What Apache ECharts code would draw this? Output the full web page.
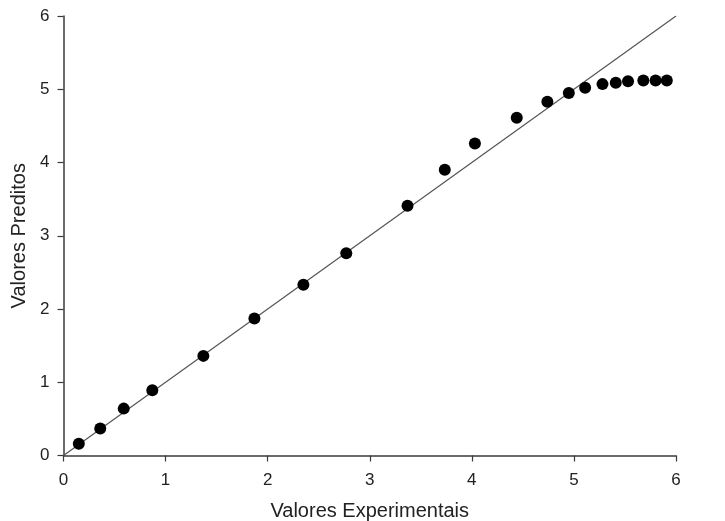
<!DOCTYPE html>
<html>
<head>
<meta charset="utf-8">
<script src="https://cdn.jsdelivr.net/npm/echarts@6/dist/echarts.min.js"></script>
<style>
  html, body { margin: 0; padding: 0; background: #fff; }
  #chart { width: 725px; height: 521px; }
</style>
</head>
<body>
<div id="chart"></div>
<script>
// Experimental vs. predicted values
const experimentais = [0.15, 0.36, 0.59, 0.87, 1.37, 1.87, 2.35, 2.77, 3.37, 3.735, 4.03, 4.44, 4.74, 4.95, 5.11, 5.28, 5.41, 5.53, 5.68, 5.80, 5.91];
const preditos      = [0.16, 0.37, 0.64, 0.89, 1.36, 1.87, 2.33, 2.76, 3.41, 3.90, 4.26, 4.61, 4.83, 4.95, 5.02, 5.07, 5.09, 5.11, 5.12, 5.12, 5.12];
// Reference line y = x
const linhaX = [0, 6];
const linhaY = [0, 6];
const axisTicks = [0, 1, 2, 3, 4, 5, 6];

const font = 'Liberation Sans, Arial, sans-serif';
const pontos = experimentais.map((x, i) => [x, preditos[i]]);
const linha = linhaX.map((x, i) => [x, linhaY[i]]);

const axisCommon = {
  type: 'value',
  min: axisTicks[0],
  max: axisTicks[axisTicks.length - 1],
  interval: 1,
  splitLine: { show: false },
  axisLine: { show: true, onZero: false, lineStyle: { color: '#3a3a3a', width: 1.5 } },
  axisTick: { show: true, inside: false, length: 6, lineStyle: { color: '#3a3a3a', width: 1.2 } },
  axisLabel: { color: '#222', fontSize: 17, fontFamily: font },
  nameLocation: 'middle',
  nameTextStyle: { color: '#222', fontSize: 20, fontFamily: font }
};

const chart = echarts.init(document.getElementById('chart'), null, { renderer: 'canvas' });
chart.setOption({
  animation: false,
  backgroundColor: '#fff',
  grid: { left: 63.5, right: 49, top: 16, bottom: 65.5, containLabel: false, outerBoundsMode: 'none' },
  xAxis: Object.assign({}, axisCommon, {
    name: 'Valores Experimentais',
    nameGap: 45.5,
    axisLabel: Object.assign({}, axisCommon.axisLabel, { margin: 16 })
  }),
  yAxis: Object.assign({}, axisCommon, {
    name: 'Valores Preditos',
    nameGap: 30,
    axisLabel: Object.assign({}, axisCommon.axisLabel, { margin: 14 })
  }),
  series: [
    {
      type: 'line',
      data: linha,
      symbol: 'none',
      lineStyle: { color: '#555', width: 1.2 },
      silent: true,
      z: 1
    },
    {
      type: 'scatter',
      data: pontos,
      symbol: 'circle',
      symbolSize: 12,
      itemStyle: { color: '#000', opacity: 1 },
      z: 2
    }
  ]
});
</script>
</body>
</html>
